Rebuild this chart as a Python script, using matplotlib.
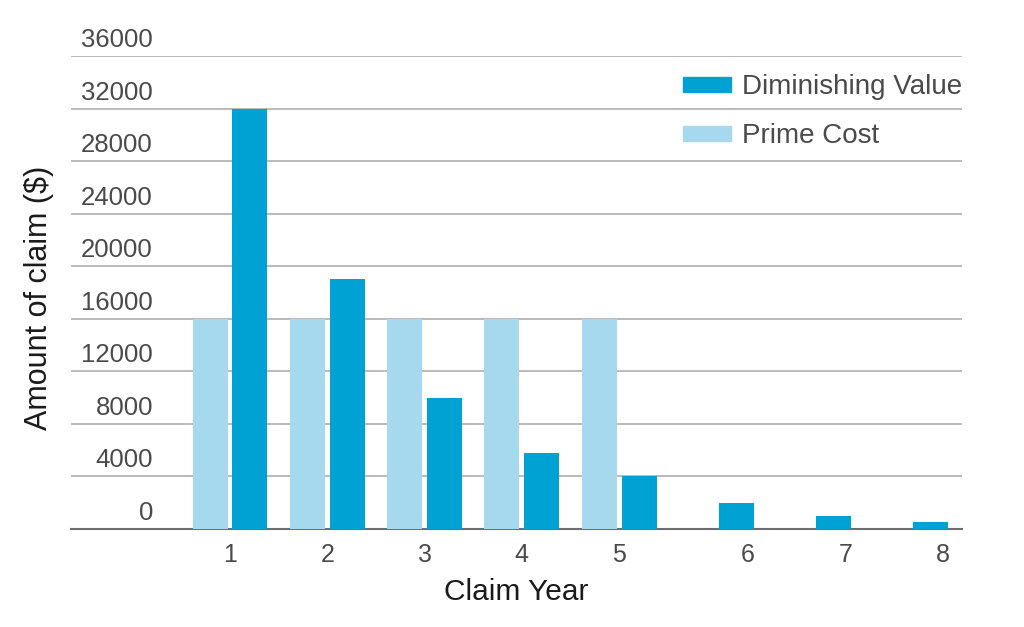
import matplotlib
matplotlib.use("Agg")
import matplotlib.pyplot as plt
import matplotlib.transforms as mtransforms
from matplotlib.patches import Patch
import numpy as np

years = [1, 2, 3, 4, 5, 6, 7, 8]
diminishing_value = [32000, 19000, 10000, 5800, 4000, 2000, 1000, 500]
prime_cost = [16000, 16000, 16000, 16000, 16000, None, None, None]
y_ticks = [0, 4000, 8000, 12000, 16000, 20000, 24000, 28000, 32000, 36000]
series_names = ["Diminishing Value", "Prime Cost"]

DV_COLOR = "#00a1d3"
PC_COLOR = "#a6d9ee"
TXT = "#4a4a4a"

plt.rcParams['font.family'] = ['Liberation Sans', 'DejaVu Sans']

fig = plt.figure(figsize=(10.24, 6.27), dpi=100)
ax = fig.add_axes([71/1024, 1 - 529/627, (962 - 71)/1024, (529 - 56)/627])

x = np.array(years, dtype=float)
w = 0.36
off = 0.205
pc_x = [xi - off for xi, v in zip(x, prime_cost) if v is not None]
pc_v = [v for v in prime_cost if v is not None]
ax.bar(pc_x, pc_v, width=w, color=PC_COLOR, zorder=3, label=series_names[1])
ax.bar(x + off, diminishing_value, width=w, color=DV_COLOR, zorder=3, label=series_names[0])

ax.set_xlim(-0.634, 8.524)
ax.set_ylim(0, 36000)

ax.set_yticks(y_ticks)
ax.set_yticklabels([])
ax.tick_params(axis='y', length=0)
ax.yaxis.grid(True, color="#b4b4b4", linewidth=1.3, zorder=0)
ax.set_axisbelow(True)

trans = mtransforms.blended_transform_factory(ax.transAxes, ax.transData)
trans = trans + mtransforms.ScaledTranslation(0, 9/100, fig.dpi_scale_trans)
for t in y_ticks:
    ax.text(0.092, t, f"{t}", transform=trans, ha='right', va='baseline',
            fontsize=18.5, color=TXT)

tick_pos = [xi if v is not None else xi + off + 0.12 for xi, v in zip(x, prime_cost)]
ax.set_xticks(tick_pos)
ax.set_xticklabels([str(y) for y in years], fontsize=18, color=TXT)
ax.tick_params(axis='x', length=0, pad=10)

for s in ['top', 'left', 'right']:
    ax.spines[s].set_visible(False)
ax.spines['bottom'].set_color("#6e6e6e")
ax.spines['bottom'].set_linewidth(1.5)

ax.set_xlabel("Claim Year", fontsize=21.5, color="#1a1a1a", labelpad=8)
fig.text(39/1024, 1 - 298/627, "Amount of claim ($)", rotation=90, ha='center', va='center',
         fontsize=22, color="#1a1a1a")

handles = [Patch(color=DV_COLOR), Patch(color=PC_COLOR)]
leg = ax.legend(handles, series_names, loc='upper left', bbox_to_anchor=((672 - 71)/891, 1 - (63 - 56)/473),
                frameon=False, fontsize=20, handlelength=1.73, handleheight=0.47,
                handletextpad=0.4, labelspacing=0.83, borderaxespad=0)
for t in leg.get_texts():
    t.set_color(TXT)

fig.savefig("out.png", dpi=100)
